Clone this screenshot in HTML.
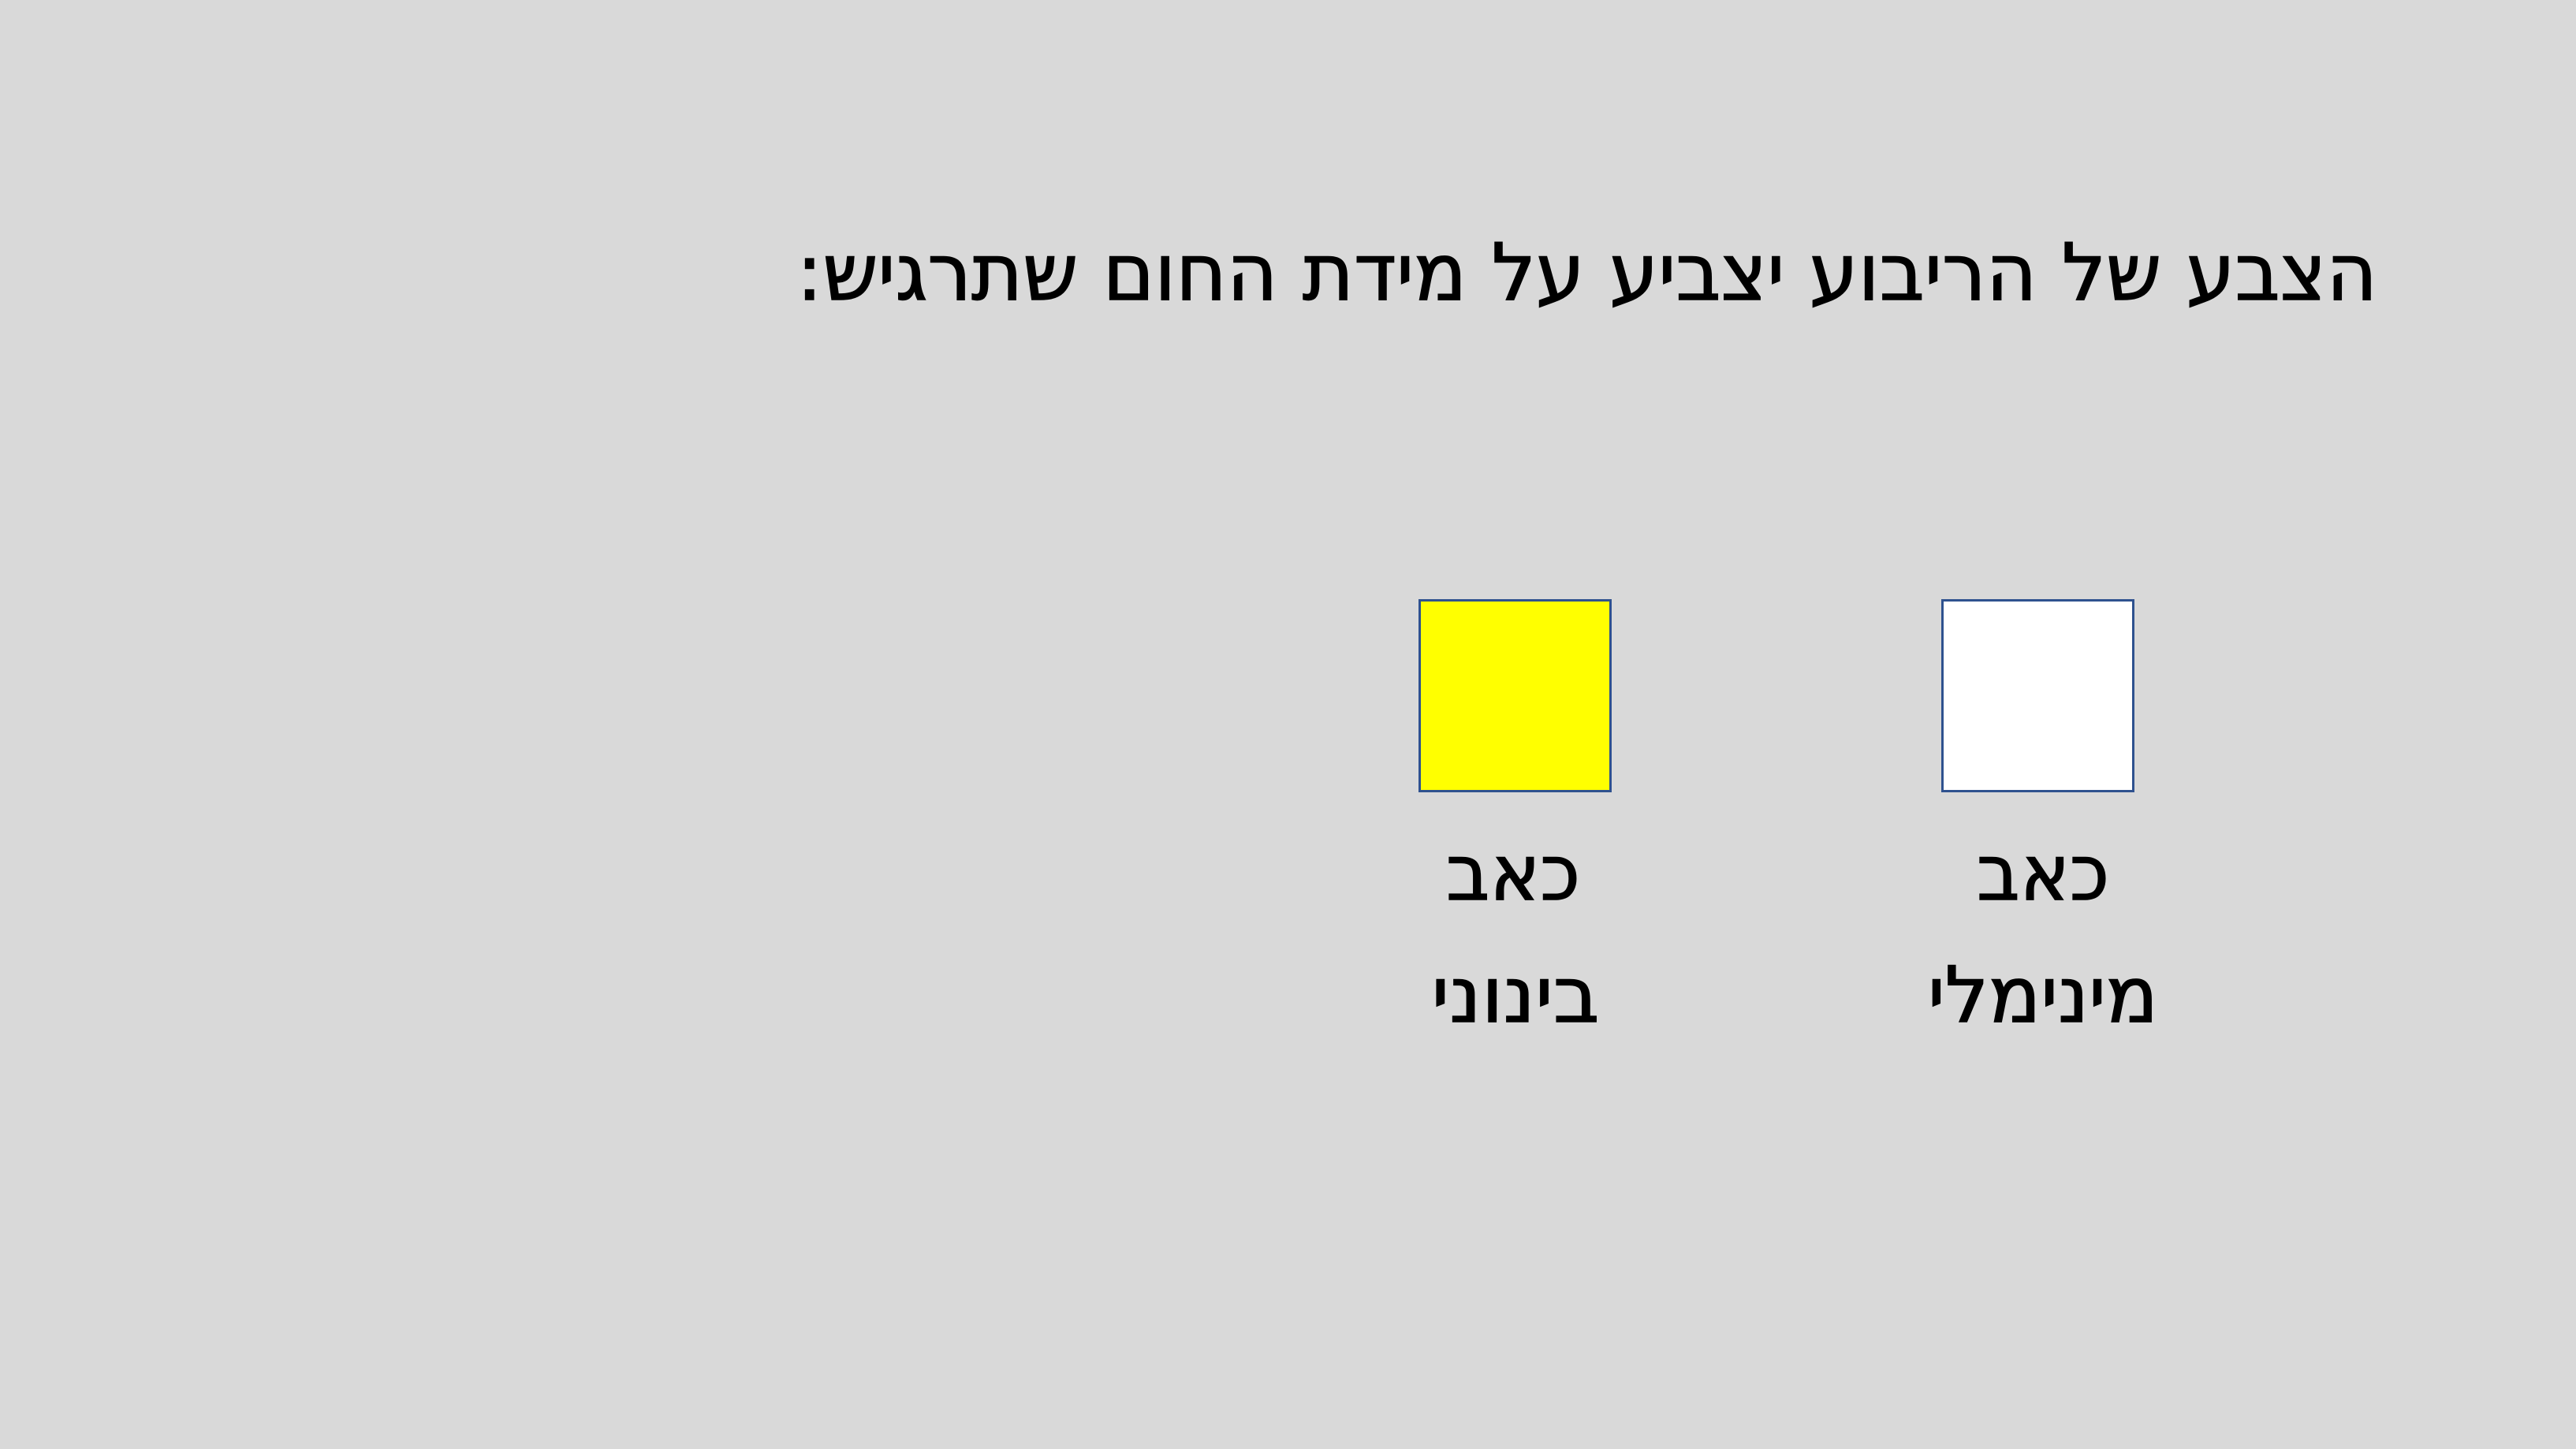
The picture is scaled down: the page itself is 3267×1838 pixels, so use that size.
<!DOCTYPE html>
<html><head><meta charset="utf-8"><style>
html,body{margin:0;padding:0;background:#d9d9d9;}
svg{display:block;}
text{font-family:"DejaVu Sans","Liberation Sans",sans-serif;fill:#000;stroke:#000;stroke-width:1.5;}
</style></head><body>
<svg width="3267" height="1838" viewBox="0 0 3267 1838">
<rect x="0" y="0" width="3267" height="1838" fill="#d9d9d9"/>
<text x="3015" y="380" font-size="100" text-anchor="start" direction="rtl" textLength="2005" lengthAdjust="spacingAndGlyphs">הצבע של הריבוע יצביע על מידת החום שתרגיש:</text>
<rect x="1800.5" y="761.5" width="242" height="242" fill="#ffff00" stroke="#2f528f" stroke-width="3"/>
<rect x="2463.5" y="761.5" width="242" height="242" fill="#ffffff" stroke="#2f528f" stroke-width="3"/>
<text x="1919" y="1141" font-size="98" text-anchor="middle" direction="rtl" textLength="170" lengthAdjust="spacingAndGlyphs">כאב</text>
<text x="1922" y="1296" font-size="98" text-anchor="middle" direction="rtl" textLength="213" lengthAdjust="spacingAndGlyphs">בינוני</text>
<text x="2591" y="1141" font-size="98" text-anchor="middle" direction="rtl" textLength="168" lengthAdjust="spacingAndGlyphs">כאב</text>
<text x="2591" y="1296" font-size="98" text-anchor="middle" direction="rtl" textLength="292" lengthAdjust="spacingAndGlyphs">מינימלי</text>
</svg>
</body></html>
